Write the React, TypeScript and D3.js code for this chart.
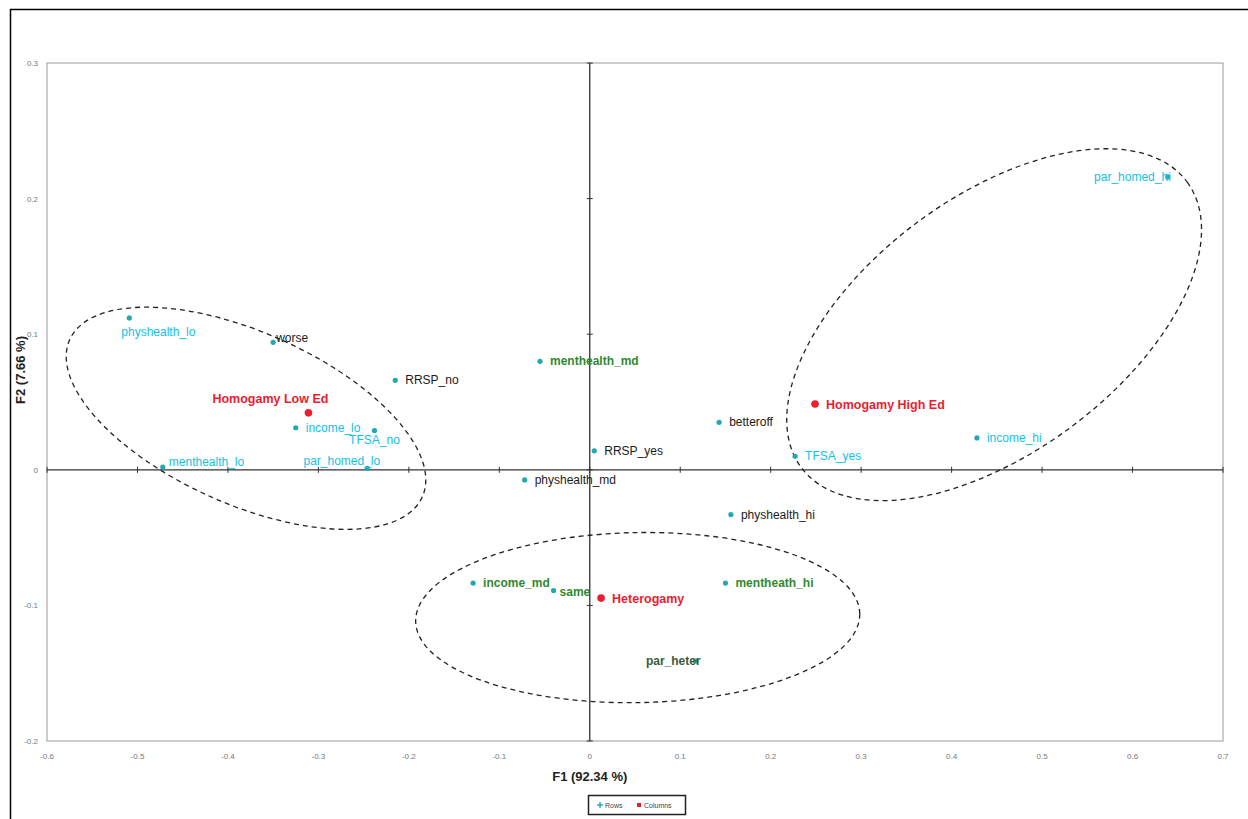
import React from "react";
import * as d3 from "d3";

// ---- data ----
const rowLabels = [
  "physhealth_lo", "worse", "RRSP_no", "income_lo", "TFSA_no", "menthealth_lo", "par_homed_lo",
  "menthealth_md", "RRSP_yes", "physhealth_md", "betteroff", "TFSA_yes", "income_hi", "par_homed_hi",
  "physhealth_hi", "income_md", "same", "mentheath_hi", "par_heter",
];
const rowF1 = [-0.509, -0.350, -0.215, -0.325, -0.238, -0.472, -0.246,
  -0.055, 0.005, -0.072, 0.143, 0.227, 0.428, 0.639,
  0.156, -0.129, -0.040, 0.150, 0.117];
const rowF2 = [0.112, 0.094, 0.066, 0.031, 0.029, 0.002, 0.001,
  0.080, 0.014, -0.0075, 0.035, 0.010, 0.0235, 0.216,
  -0.033, -0.0835, -0.089, -0.0835, -0.141];
const rowLabelColor = ["cyan", "black", "black", "cyan", "cyan", "cyan", "cyan",
  "green", "black", "black", "black", "cyan", "cyan", "cyan",
  "black", "green", "green", "green", "dark"];

const colLabels = ["Homogamy Low Ed", "Homogamy High Ed", "Heterogamy"];
const colF1 = [-0.311, 0.249, 0.0125];
const colF2 = [0.042, 0.0485, -0.0946];

const xTicks = [-0.6, -0.5, -0.4, -0.3, -0.2, -0.1, 0, 0.1, 0.2, 0.3, 0.4, 0.5, 0.6, 0.7];
const yTicks = [-0.2, -0.1, 0, 0.1, 0.2, 0.3];

// ellipses: center (data), semi-axes (data units of F1), rotation degrees
const ellCx = [-0.380, 0.447, 0.053];
const ellCy = [0.038, 0.107, -0.109];
const ellRa = [0.2134, 0.2653, 0.2455];
const ellRb = [0.0951, 0.1415, 0.094];
const ellRot = [24, -36.5, -1];

const colorMap: Record<string, string> = {
  cyan: "#12c2e6",
  black: "#1a1a1a",
  green: "#2f8a2f",
  dark: "#3c5a3c",
};

// label placement (style)
const labelPos: Record<string, { dx: number; dy: number; anchor: string }> = {
  physhealth_lo: { dx: -8, dy: 18, anchor: "start" },
  worse: { dx: 3, dy: 0, anchor: "start" },
  TFSA_no: { dx: 0, dy: 14, anchor: "middle" },
  menthealth_lo: { dx: 6, dy: -1, anchor: "start" },
  par_homed_lo: { dx: 13, dy: -3, anchor: "end" },
  par_homed_hi: { dx: 3, dy: 4, anchor: "end" },
  par_heter: { dx: 5, dy: 4, anchor: "end" },
  same: { dx: 6, dy: 6, anchor: "start" },
};

const W = 1248, H = 819;
const M = { left: 47, right: 1223, top: 63, bottom: 741 };

const fmtTick = (t: number) => String(+t.toFixed(1));

export default function App() {
  const x = d3.scaleLinear().domain([-0.6, 0.7]).range([M.left, M.right]);
  const y = d3.scaleLinear().domain([-0.2, 0.3]).range([M.bottom, M.top]);
  const pxPerUnit = x(1) - x(0);
  const font = "'Liberation Sans', Arial, sans-serif";

  return (
    <svg width={W} height={H} style={{ position: "absolute", left: 0, top: 0, background: "#fff" }} fontFamily={font}>
      {/* outer frame */}
      <line x1={10} y1={9.5} x2={W} y2={9.5} stroke="#000" strokeWidth={1.5} />
      <line x1={10.5} y1={9} x2={10.5} y2={H} stroke="#000" strokeWidth={1.5} />

      {/* plot area */}
      <rect x={M.left} y={M.top} width={M.right - M.left} height={M.bottom - M.top} fill="none" stroke="#9a9a9a" strokeWidth={1} />

      {/* zero axes */}
      <line x1={M.left} x2={M.right} y1={y(0)} y2={y(0)} stroke="#333" strokeWidth={1.3} />
      <line x1={x(0)} x2={x(0)} y1={M.top} y2={M.bottom} stroke="#333" strokeWidth={1.3} />
      {xTicks.map((t) => (
        <line key={"xt" + t} x1={x(t)} x2={x(t)} y1={y(0) - 3} y2={y(0) + 3} stroke="#333" strokeWidth={1} />
      ))}
      {yTicks.map((t) => (
        <line key={"yt" + t} x1={x(0) - 3} x2={x(0) + 3} y1={y(t)} y2={y(t)} stroke="#333" strokeWidth={1} />
      ))}

      {/* tick labels */}
      {xTicks.map((t) => (
        <text key={"xl" + t} x={x(t)} y={M.bottom + 18} fontSize={8} fill="#777" textAnchor="middle">
          {fmtTick(t)}
        </text>
      ))}
      {yTicks.map((t) => (
        <text key={"yl" + t} x={M.left - 9} y={y(t) + 3} fontSize={8} fill="#777" textAnchor="end">
          {fmtTick(t)}
        </text>
      ))}

      {/* axis titles */}
      <text x={x(0)} y={781} fontSize={13} fontWeight="bold" fill="#222" textAnchor="middle">F1 (92.34 %)</text>
      <text transform={`translate(25,${370}) rotate(-90)`} fontSize={13} fontWeight="bold" fill="#222" textAnchor="middle">F2 (7.66 %)</text>

      {/* ellipses */}
      {ellCx.map((cx, i) => (
        <ellipse key={"e" + i}
          cx={x(cx)} cy={y(ellCy[i])}
          rx={ellRa[i] * pxPerUnit} ry={ellRb[i] * pxPerUnit}
          transform={`rotate(${ellRot[i]},${x(cx)},${y(ellCy[i])})`}
          fill="none" stroke="#222" strokeWidth={1.3} strokeDasharray="5,4" />
      ))}

      {/* row points */}
      {rowLabels.map((lab, i) => {
        const px = x(rowF1[i]), py = y(rowF2[i]);
        const p = labelPos[lab] || { dx: 10, dy: 4, anchor: "start" };
        const c = rowLabelColor[i];
        return (
          <g key={"r" + lab}>
            <circle cx={px} cy={py} r={2.6} fill="#22a8b4" />
            <text x={px + p.dx} y={py + p.dy} fontSize={12} fill={colorMap[c]}
              fontWeight={c === "green" || c === "dark" ? "bold" : "normal"} textAnchor={p.anchor}>
              {lab}
            </text>
          </g>
        );
      })}

      {/* column points */}
      {colLabels.map((lab, i) => {
        const px = x(colF1[i]), py = y(colF2[i]);
        const isLow = i === 0;
        return (
          <g key={"c" + lab}>
            <circle cx={px} cy={py} r={3.8} fill="#ee1c2e" />
            <text x={isLow ? px + 20 : px + 11} y={isLow ? py - 10 : py + 5} fontSize={12.5} fontWeight="bold"
              fill="#ee1c2e" textAnchor={isLow ? "end" : "start"}>
              {lab}
            </text>
          </g>
        );
      })}

      {/* legend */}
      <rect x={588.5} y={795.5} width={97} height={19} fill="#fff" stroke="#222" strokeWidth={1.5} />
      <line x1={597} x2={603} y1={805} y2={805} stroke="#22a8b4" strokeWidth={1.4} />
      <line x1={600} x2={600} y1={802} y2={808} stroke="#22a8b4" strokeWidth={1.4} />
      <text x={605} y={807.5} fontSize={7} fill="#444">Rows</text>
      <rect x={637} y={803} width={4} height={4} fill="#ee1c2e" />
      <text x={644} y={807.5} fontSize={7} fill="#444">Columns</text>
    </svg>
  );
}
